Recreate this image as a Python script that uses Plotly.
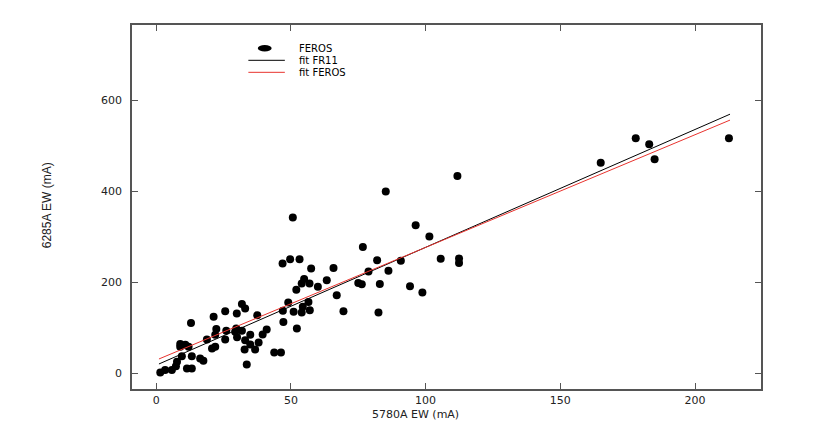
import plotly.graph_objects as go

# FEROS measurements (5780A EW, 6285A EW) in mA
feros_x = [212.6, 178, 183, 185, 165, 111.8, 85.2, 50.7, 96.3, 101.4, 76.7, 105.6,
           112.4, 112.4, 82, 90.8, 86.2, 78.8, 83, 94.2, 98.8, 82.5, 69.5, 67, 75,
           76.3, 65.8, 57.5, 46.9, 49.7, 53.2, 54.9, 63.3, 54, 56.9, 60, 52, 49,
           56.5, 47, 51, 54, 54.4, 57, 47.2, 52.2, 41, 39.5, 43.8, 46.3, 37.5,
           31.8, 33, 25.6, 29.9, 21.3, 12.9, 22.3, 29.3, 31.8, 34.9, 18.8, 21.9,
           25.6, 33, 34.9, 36.7, 32.8, 21.9, 20.7, 8.9, 10.8, 8.9, 12, 9.5, 13.2,
           16.3, 17.5, 7.7, 7.3, 11.4, 13.2, 3.3, 5.8, 1.5, 33.6, 38, 30, 26, 29.7]
feros_y = [516, 516, 503, 470, 462, 433, 399, 342, 325, 300, 277, 251,
           252, 242, 248, 247, 225, 223, 196, 191, 177, 133, 136, 171, 198,
           195, 231, 230, 241, 250, 250, 207, 204, 197, 197, 190, 183, 155,
           156, 137, 135, 133, 146, 138, 112, 98, 96, 85, 45, 45, 127,
           152, 142, 136, 131, 124, 110, 97, 91, 93, 84, 74, 84,
           74, 72, 63, 52, 52, 58, 54, 64, 62, 58, 58, 37, 37,
           32, 27, 25, 15, 10, 10, 7, 7, 1, 19, 67, 79, 93, 98]

# linear fits, evaluated at the ends of the data range
fit_x = [1, 213]
fit_fr11_y = [20, 569]
fit_feros_y = [31, 556]

x_ticks = [0, 50, 100, 150, 200]
y_ticks = [0, 200, 400, 600]

TICK_FONT = dict(family="DejaVu Sans", size=11, color="#222222")
FRAME = "#555555"
RED = "#e8332e"

fig = go.Figure()

fig.add_trace(go.Scatter(x=feros_x, y=feros_y, mode="markers",
                         marker=dict(size=8, color="black"),
                         hoverinfo="x+y", showlegend=False))
fig.add_trace(go.Scatter(x=fit_x, y=fit_fr11_y, mode="lines",
                         line=dict(color="black", width=1),
                         hoverinfo="none", showlegend=False))
fig.add_trace(go.Scatter(x=fit_x, y=fit_feros_y, mode="lines",
                         line=dict(color=RED, width=1),
                         hoverinfo="none", showlegend=False))

fig.update_xaxes(range=[-9, 224.5], tickvals=x_ticks, ticks="inside",
                 ticklen=6, tickcolor=FRAME, showline=True, linecolor=FRAME,
                 linewidth=1.5, mirror="allticks", showgrid=False,
                 zeroline=False, tickfont=TICK_FONT)
fig.update_yaxes(range=[-35, 765], tickvals=y_ticks, ticks="inside",
                 ticklen=6, tickcolor=FRAME, showline=True, linecolor=FRAME,
                 linewidth=1.5, mirror="allticks", showgrid=False,
                 zeroline=False, tickfont=TICK_FONT, ticklabelstandoff=6)

# hand-made legend, top left inside the frame
legend_font = dict(family="DejaVu Sans", size=10, color="black")
legend_rows = [("FEROS", 0.936), ("fit FR11", 0.903), ("fit FEROS", 0.870)]
shapes = [
    dict(type="circle", xref="paper", yref="paper", x0=0.2, x1=0.222,
         y0=0.927, y1=0.945, fillcolor="black", line=dict(width=0)),
    dict(type="line", xref="paper", yref="paper", x0=0.185, x1=0.243,
         y0=0.903, y1=0.903, line=dict(color="black", width=1)),
    dict(type="line", xref="paper", yref="paper", x0=0.185, x1=0.243,
         y0=0.870, y1=0.870, line=dict(color=RED, width=1)),
]
annotations = [dict(text=t, xref="paper", yref="paper", x=0.263, y=y,
                    xanchor="left", yanchor="middle", showarrow=False,
                    font=legend_font) for t, y in legend_rows]

annotations.append(dict(text="5780A EW (mA)", xref="paper", yref="paper",
                        x=0.45, y=-0.07, xanchor="center", yanchor="middle",
                        showarrow=False,
                        font=dict(family="DejaVu Sans", size=11, color="#222222")))
annotations.append(dict(text="6285A EW (mA)", xref="paper", yref="paper",
                        x=-0.135, y=0.505, textangle=-90, xanchor="center",
                        yanchor="middle", showarrow=False,
                        font=dict(family="Liberation Sans Narrow, Liberation Sans",
                                  size=12, color="#222222")))

fig.update_layout(width=830, height=436, showlegend=False,
                  plot_bgcolor="white", paper_bgcolor="white",
                  margin=dict(l=132, r=69, t=25, b=47),
                  shapes=shapes, annotations=annotations)

# drop the page's default body margin so the figure sits at the window corner
fig.write_html("out.html", config={"displayModeBar": False},
               post_script="document.body.style.margin='0px';")
